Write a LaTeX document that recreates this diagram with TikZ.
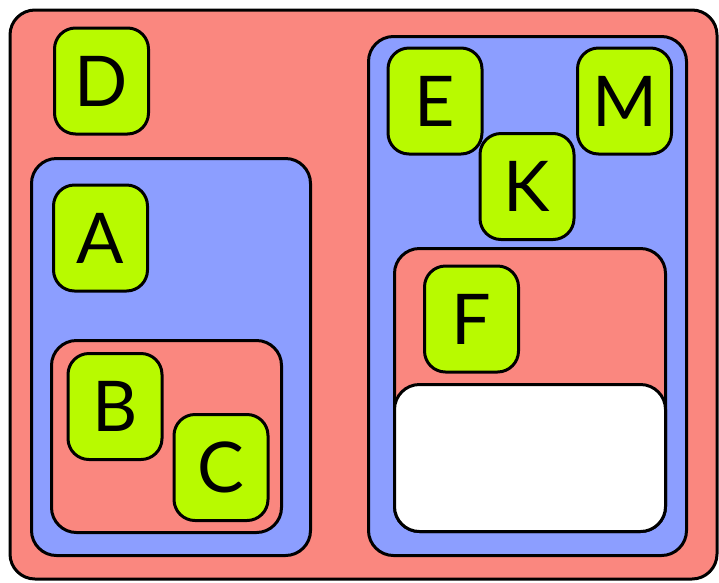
\documentclass[tikz,border=0pt]{standalone}
\usepackage{fontspec}
\setsansfont{Lato}
\usetikzlibrary{positioning}

\definecolor{setred}{RGB}{250,135,127}
\definecolor{setblue}{RGB}{140,158,255}
\definecolor{elemgreen}{RGB}{184,250,0}

\begin{document}
\begin{tikzpicture}[
    x=1pt, y=-1pt,
    font=\sffamily,
    redset/.style={draw=black, line width=3pt, fill=setred, rounded corners=25pt},
    blueset/.style={draw=black, line width=3pt, fill=setblue, rounded corners=25pt},
    emptyset/.style={draw=black, line width=3pt, fill=white, rounded corners=25pt},
    elem/.style={draw=black, line width=3pt, fill=elemgreen, rounded corners=21pt, minimum width=94pt, minimum height=106pt, inner sep=0pt, font=\sffamily\fontsize{70}{70}\selectfont}
]
    \useasboundingbox (0,0) rectangle (719,582);

    % Outer set
    \node[redset, minimum width=707pt, minimum height=569pt] (outer) at (363.5,294.5) {};

    % Left side
    \node[blueset, minimum width=279pt, minimum height=397pt] (leftblue) at (171,357) {};
    \node[redset, minimum width=230pt, minimum height=192pt] (leftred) at (166.5,436.5) {};

    % Right side
    \node[blueset, minimum width=318pt, minimum height=519pt] (rightblue) at (527.5,296) {};
    \node[redset, minimum width=271pt, minimum height=283pt] (rightred) at (530,390) {};
    \node[emptyset, minimum width=271pt, minimum height=147pt] (hole) at (530,458) {};

    % Elements
    \node[elem] (D) at (101.5,81) {D};
    \node[elem] (A) at (100.5,238) {A};
    \node[elem] (B) at (115,406.5) {B};
    \node[elem] (C) at (221,467.5) {C};
    \node[elem] (E) at (435,101) {E};
    \node[elem] (M) at (624.5,101) {M};
    \node[elem] (K) at (527,186.5) {K};
    \node[elem] (F) at (471.5,319) {F};

\end{tikzpicture}
\end{document}
